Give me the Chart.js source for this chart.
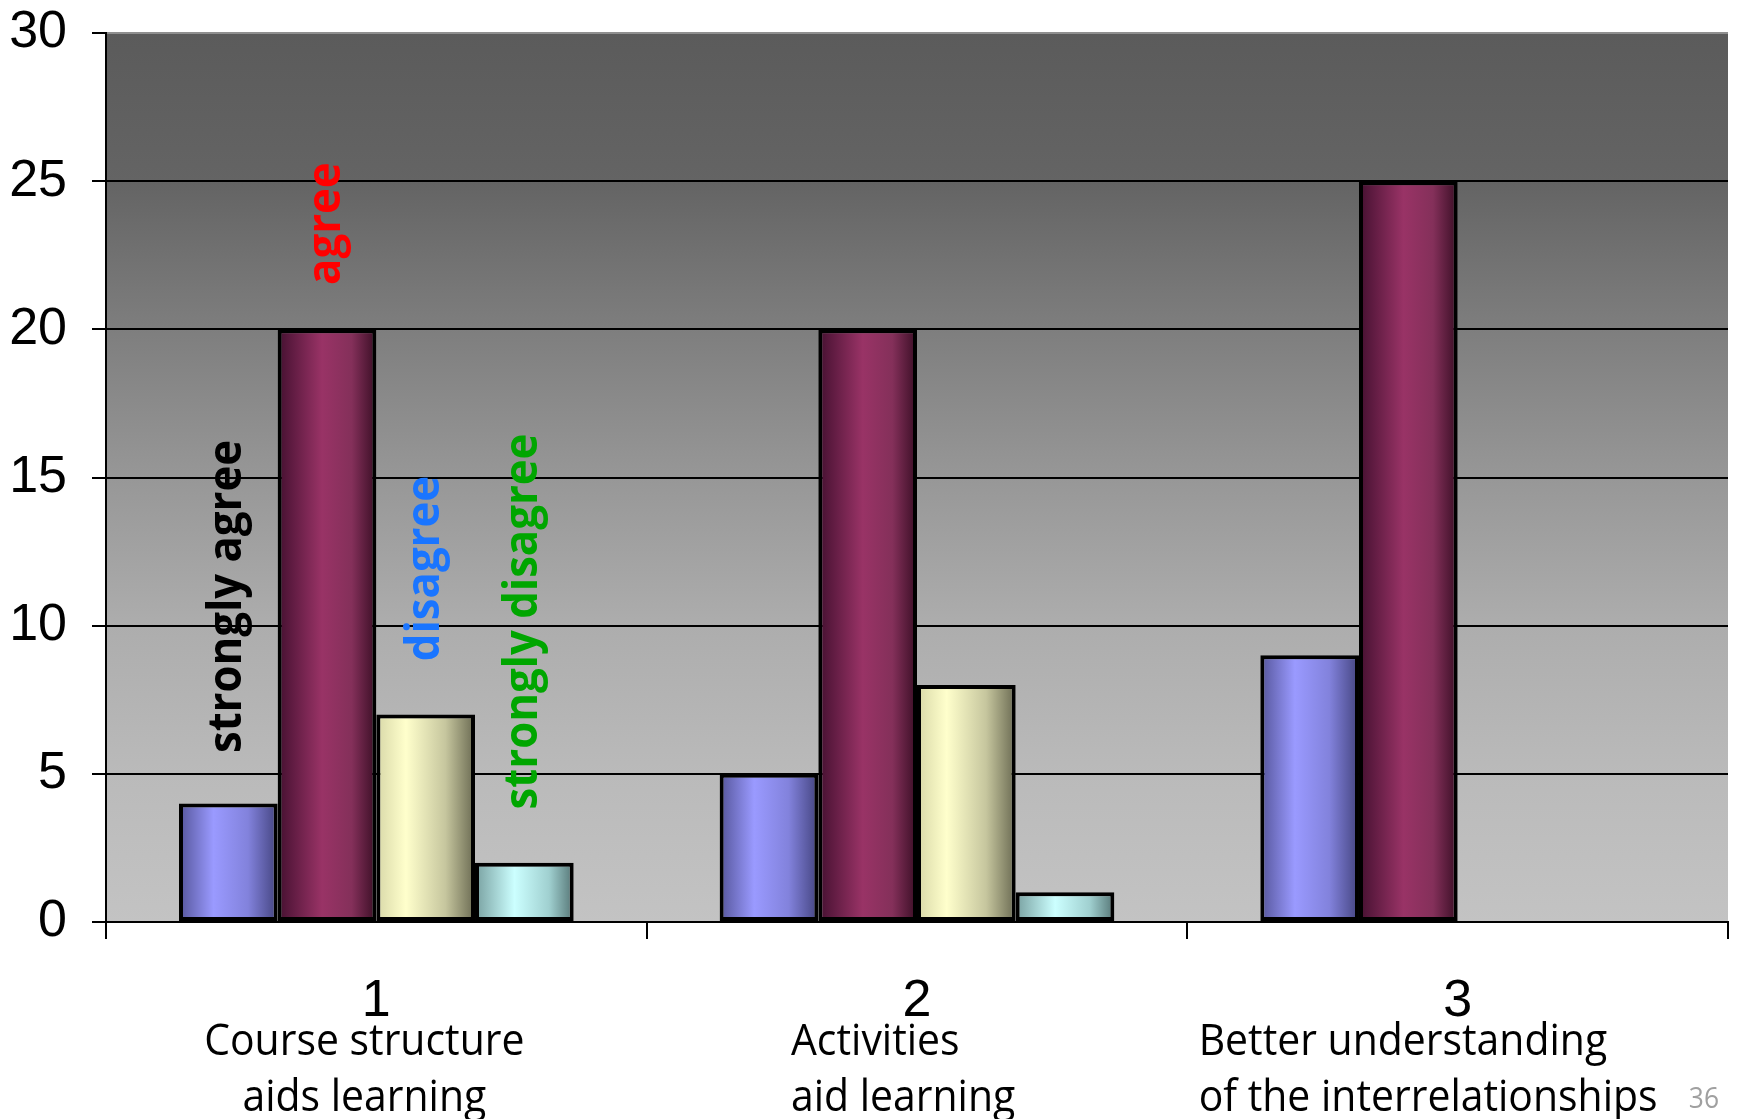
<!DOCTYPE html>
<html>
<head>
<meta charset="utf-8">
<script src="https://cdn.jsdelivr.net/npm/chart.js@4.4.0/dist/chart.umd.min.js"></script>
<style>
  html, body { margin: 0; padding: 0; background: #fff; }
  #wrap { width: 1737px; height: 1119px; }
</style>
</head>
<body>
<div id="wrap"><canvas id="chart" width="1737" height="1119"></canvas></div>
<script>
// survey answers, counts per statement
const categories = ['1', '2', '3']
const descriptions = [
  ['Course structure', 'aids learning'],
  ['Activities', 'aid learning'],
  ['Better understanding', 'of the interrelationships']
]
const seriesNames = ['strongly agree', 'agree', 'disagree', 'strongly disagree']
const stronglyAgree = [4, 5, 9]
const agree = [20, 20, 25]
const disagree = [7, 8, 0]
const stronglyDisagree = [2, 1, 0]
const yTicks = [0, 5, 10, 15, 20, 25, 30]
const pageNumber = '36'

const CAT_PCT = 0.73

// cylinder-ish shading across each bar
function barFill(stops) {
  return (ctx) => {
    const chart = ctx.chart
    const xs = chart.scales.x
    if (ctx.type !== 'data' || !xs || !xs.width) return stops[1][1]
    const catW = xs.width / categories.length
    const barW = catW * CAT_PCT / seriesNames.length
    const x0 = xs.getPixelForValue(ctx.dataIndex) - catW * CAT_PCT / 2 + ctx.datasetIndex * barW
    const g = chart.ctx.createLinearGradient(x0, 0, x0 + barW, 0)
    stops.forEach(([o, c]) => g.addColorStop(o, c))
    return g
  }
}

const plotBackground = {
  id: 'plotBackground',
  beforeDraw(chart) {
    const { ctx, chartArea: a } = chart
    const g = ctx.createLinearGradient(0, a.top, 0, a.bottom)
    g.addColorStop(0, '#5b5b5b')
    g.addColorStop(0.167, '#646464')
    g.addColorStop(0.333, '#7e7e7e')
    g.addColorStop(0.5, '#979797')
    g.addColorStop(0.667, '#adadad')
    g.addColorStop(0.833, '#bababa')
    g.addColorStop(1, '#c3c3c3')
    ctx.save()
    ctx.fillStyle = g
    ctx.fillRect(a.left, a.top, a.width, a.height)
    ctx.restore()
  }
}

const seriesLabels = {
  id: 'seriesLabels',
  afterDatasetsDraw(chart, args, opts) {
    const { ctx } = chart
    const ys = chart.scales.y
    chart.data.datasets.forEach((ds, i) => {
      const bar = chart.getDatasetMeta(i).data[0]
      ctx.save()
      ctx.translate(bar.x, ys.getPixelForValue(opts.anchors[i]))
      ctx.rotate(-Math.PI / 2)
      ctx.scale(opts.squeeze, 1)
      ctx.font = opts.font
      ctx.fillStyle = opts.colors[i]
      ctx.textAlign = 'left'
      ctx.textBaseline = 'middle'
      ctx.fillText(ds.label, 0, 0)
      ctx.restore()
    })
  }
}

const categoryNotes = {
  id: 'categoryNotes',
  afterDraw(chart, args, opts) {
    const { ctx } = chart
    const xs = chart.scales.x
    ctx.save()
    ctx.font = opts.font
    ctx.fillStyle = '#000'
    descriptions.forEach((lines, i) => {
      const x = xs.getPixelForValue(i) + opts.offsets[i]
      lines.forEach((line, j) => {
        ctx.save()
        ctx.translate(x, opts.top + j * opts.lineHeight)
        ctx.scale(opts.squeeze, 1)
        ctx.textAlign = opts.align[i]
        ctx.textBaseline = 'alphabetic'
        ctx.fillText(line, 0, 0)
        ctx.restore()
      })
    })
    ctx.translate(1719, 1108)
    ctx.scale(0.88, 1)
    ctx.font = '30px "Open Sans"'
    ctx.fillStyle = '#a0a0a0'
    ctx.textAlign = 'right'
    ctx.fillText(pageNumber, 0, 0)
    ctx.restore()
  }
}

const chart = new Chart(document.getElementById('chart'), {
  type: 'bar',
  data: {
    labels: categories,
    datasets: [
      { label: seriesNames[0], data: stronglyAgree,
        backgroundColor: barFill([[0, '#55559a'], [0.35, '#9a9aff'], [0.7, '#8282dc'], [1, '#444480']]) },
      { label: seriesNames[1], data: agree,
        backgroundColor: barFill([[0, '#441030'], [0.45, '#993366'], [0.75, '#84305a'], [1, '#3a0e25']]) },
      { label: seriesNames[2], data: disagree,
        backgroundColor: barFill([[0, '#d8d8a8'], [0.3, '#ffffcc'], [0.7, '#c6c69e'], [1, '#6a6a52']]) },
      { label: seriesNames[3], data: stronglyDisagree,
        backgroundColor: barFill([[0, '#78a0a0'], [0.4, '#ccffff'], [0.75, '#a0d0d0'], [1, '#557575']]) }
    ]
  },
  options: {
    responsive: false,
    animation: false,
    layout: { padding: { top: 33, right: 9, left: 0, bottom: 0 } },
    datasets: {
      bar: { categoryPercentage: CAT_PCT, barPercentage: 1, borderColor: '#000', borderWidth: 4, borderSkipped: false }
    },
    plugins: {
      legend: { display: false },
      tooltip: { enabled: false },
      seriesLabels: {
        anchors: [5.7, 21.5, 8.8, 3.8],
        colors: ['#000000', '#ff0000', '#1a75ff', '#00a600'],
        font: 'bold 46px "Open Sans"',
        squeeze: 0.95
      },
      categoryNotes: {
        font: '44px "Open Sans"',
        squeeze: 0.93,
        offsets: [-12, -126, -259],
        align: ['center', 'left', 'left'],
        top: 1055,
        lineHeight: 56
      }
    },
    scales: {
      x: {
        grid: { offset: true, drawOnChartArea: false, drawTicks: true, tickLength: 17, color: '#000', lineWidth: 2 },
        border: { color: '#000', width: 2 },
        ticks: { font: { family: 'Liberation Sans', size: 52 }, color: '#000', padding: 31, maxRotation: 0 },
        afterFit: (s) => { s.height = 197; s.paddingLeft = 0; s.paddingRight = 0 }
      },
      y: {
        min: 0,
        max: 30,
        afterBuildTicks: (s) => { s.ticks = yTicks.map(v => ({ value: v })) },
        grid: {
          color: (c) => (c.tick && c.tick.value === 30 ? '#8f8f8f' : '#000'),
          tickColor: '#000',
          lineWidth: 2,
          tickLength: 14
        },
        border: { color: '#000', width: 2 },
        ticks: { font: { family: 'Liberation Sans', size: 52 }, color: '#000', padding: 25 },
        afterFit: (s) => { s.width = 106; s.paddingTop = 0; s.paddingBottom = 0 }
      }
    }
  },
  plugins: [plotBackground, seriesLabels, categoryNotes]
})
</script>
</body>
</html>
